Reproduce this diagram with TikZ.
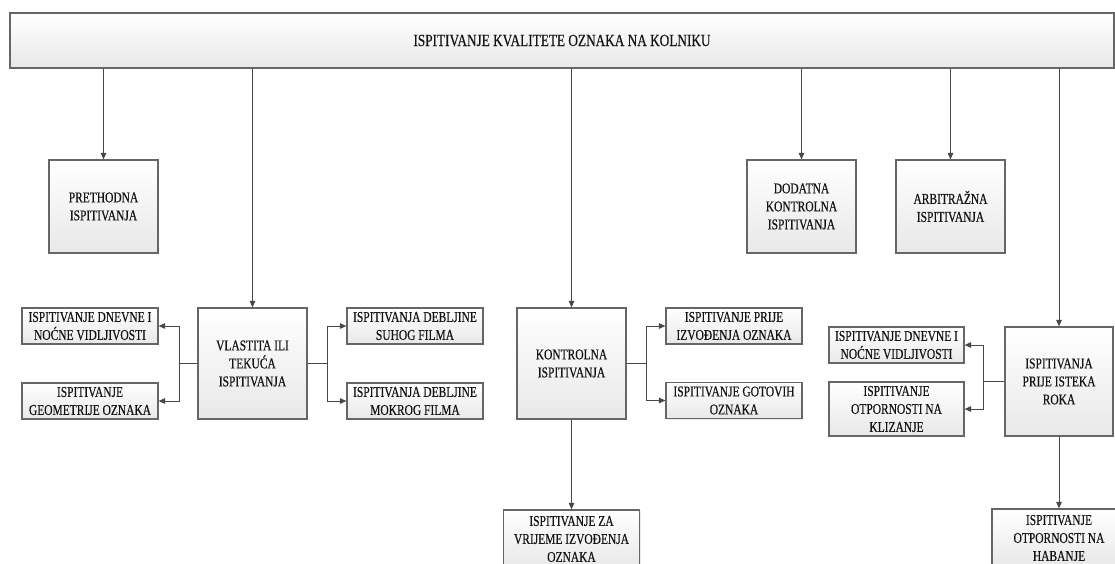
\documentclass[tikz,border=0pt]{standalone}
\usepackage{fontspec}
\setmainfont{Liberation Serif}
\newfontfamily\bxfont[FakeStretch=0.765,FakeBold=0.4]{Liberation Serif}
\newfontfamily\ttlfont[FakeStretch=0.78,FakeBold=0.4]{Liberation Serif}
\usetikzlibrary{arrows.meta,shadows}
\begin{document}
\begin{tikzpicture}[x=1pt,y=-1pt,
  box/.style={draw=black!60, line width=1.2pt, top color=white, bottom color=black!9,
    align=center, inner sep=0pt, text=black!92,
    font=\bxfont\fontsize{15}{18}\selectfont,
    drop shadow={opacity=0.18, shadow xshift=1.2pt, shadow yshift=-1.2pt}},
  conn/.style={draw=black!72, line width=1pt, -{Triangle[length=6.5pt,width=5.5pt]}},
  plain/.style={draw=black!72, line width=1pt}]
\useasboundingbox (0,0) rectangle (1115,563);
\clip (0,0) rectangle (1115,563);
\fill[white] (0,0) rectangle (1115,563);

% top
\node[box, minimum width=1104pt, minimum height=55pt, font=\ttlfont\fontsize{17}{20}\selectfont] (top) at (562,40.5) {ISPITIVANJE KVALITETE OZNAKA NA KOLNIKU};

% second row
\node[box, minimum width=109pt, minimum height=93pt] (pre) at (103.5,206.5) {PRETHODNA\\ISPITIVANJA};
\node[box, minimum width=109pt, minimum height=93pt] (dod) at (801.5,206.5) {DODATNA\\KONTROLNA\\ISPITIVANJA};
\node[box, minimum width=109pt, minimum height=93pt] (arb) at (950.5,206.5) {ARBITRAŽNA\\ISPITIVANJA};

% vlastita
\node[box, minimum width=109pt, minimum height=111pt] (vla) at (252.5,363.5) {VLASTITA ILI\\TEKUĆA\\ISPITIVANJA};
\node[box, minimum width=136pt, minimum height=36pt] (dn1) at (90,326) {ISPITIVANJE DNEVNE I\\NOĆNE VIDLJIVOSTI};
\node[box, minimum width=136pt, minimum height=36pt] (geo) at (90,401) {ISPITIVANJE\\GEOMETRIJE OZNAKA};
\node[box, minimum width=136pt, minimum height=36pt] (suh) at (415,326) {ISPITIVANJA DEBLJINE\\SUHOG FILMA};
\node[box, minimum width=136pt, minimum height=36pt] (mok) at (415,401) {ISPITIVANJA DEBLJINE\\MOKROG FILMA};

% kontrolna
\node[box, minimum width=109pt, minimum height=111pt] (kon) at (571.5,363.5) {KONTROLNA\\ISPITIVANJA};
\node[box, minimum width=136pt, minimum height=36pt] (prij) at (734,326) {ISPITIVANJE PRIJE\\IZVOĐENJA OZNAKA};
\node[box, minimum width=136pt, minimum height=36pt] (got) at (734,400.5) {ISPITIVANJE GOTOVIH\\OZNAKA};
\node[box, minimum width=136pt, minimum height=58pt] (vri) at (571.5,539) {ISPITIVANJE ZA\\VRIJEME IZVOĐENJA\\OZNAKA};

% prije isteka roka
\node[box, minimum width=108pt, minimum height=109pt] (ist) at (1059,381.5) {ISPITIVANJA\\PRIJE ISTEKA\\ROKA};
\node[box, minimum width=135pt, minimum height=36pt] (dn2) at (896.5,345) {ISPITIVANJE DNEVNE I\\NOĆNE VIDLJIVOSTI};
\node[box, minimum width=135pt, minimum height=54pt] (kli) at (896.5,409) {ISPITIVANJE\\OTPORNOSTI NA\\KLIZANJE};
\node[box, minimum width=134pt, minimum height=58pt] (hab) at (1059,538) {ISPITIVANJE\\OTPORNOSTI NA\\HABANJE};

% connectors from top
\foreach \n in {pre,vla,kon,dod,arb,ist}
  \draw[conn] (\n.north |- top.south) -- (\n.north);

% vlastita branches
\coordinate (vlaL) at (179,363.5);
\coordinate (vlaR) at (327,363.5);
\draw[plain] (vla.west) -- (vlaL);
\draw[conn] (vlaL) |- (dn1.east);
\draw[conn] (vlaL) |- (geo.east);
\draw[plain] (vla.east) -- (vlaR);
\draw[conn] (vlaR) |- (suh.west);
\draw[conn] (vlaR) |- (mok.west);

% kontrolna branches
\coordinate (konR) at (646,363.5);
\draw[plain] (kon.east) -- (konR);
\draw[conn] (konR) |- (prij.west);
\draw[conn] (konR) |- (got.west);
\draw[conn] (kon.south) -- (vri.north);

% prije isteka branches
\coordinate (istL) at (983,381.5);
\draw[plain] (ist.west) -- (istL);
\draw[conn] (istL) |- (dn2.east);
\draw[conn] (istL) |- (kli.east);
\draw[conn] (ist.south) -- (hab.north);
\end{tikzpicture}
\end{document}
